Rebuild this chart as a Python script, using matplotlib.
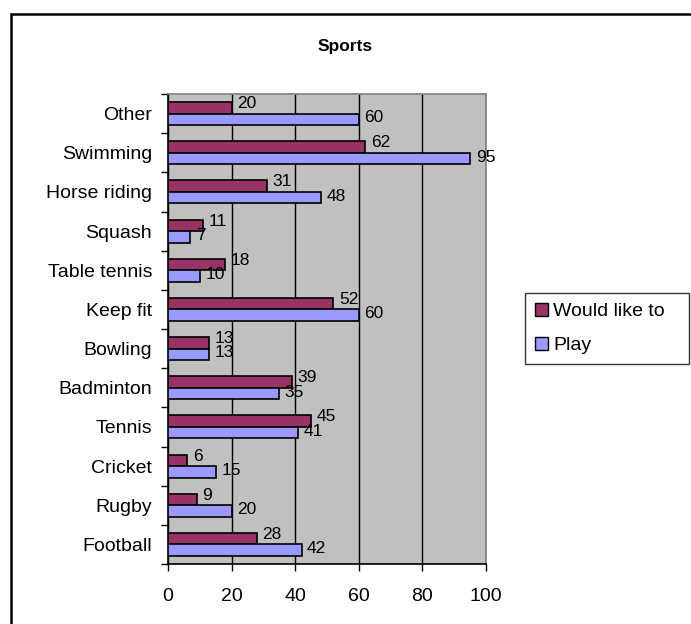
import matplotlib
matplotlib.use("Agg")
import matplotlib.pyplot as plt
from matplotlib.patches import Rectangle, Patch
import numpy as np

plt.rcParams['font.family'] = ['Liberation Sans', 'DejaVu Sans']

categories = ["Other", "Swimming", "Horse riding", "Squash", "Table tennis", "Keep fit",
              "Bowling", "Badminton", "Tennis", "Cricket", "Rugby", "Football"]
would_like = [20, 62, 31, 11, 18, 52, 13, 39, 45, 6, 9, 28]
play = [60, 95, 48, 7, 10, 60, 13, 35, 41, 15, 20, 42]
xticks = [0, 20, 40, 60, 80, 100]

C_WOULD = "#993366"
C_PLAY = "#9999FF"

fig = plt.figure(figsize=(6.91, 6.24), dpi=100)
ax = fig.add_axes([168/691, 1-564/624, (486-168)/691, (564-94)/624])
ax.set_facecolor("#C0C0C0")

n = len(categories)
cats_r = categories[::-1]
w_r = would_like[::-1]
p_r = play[::-1]
y = np.arange(n)
h = 0.295

ax.barh(y + h/2, w_r, height=h, color=C_WOULD, edgecolor="black", linewidth=1.2, zorder=3)
ax.barh(y - h/2, p_r, height=h, color=C_PLAY, edgecolor="black", linewidth=1.2, zorder=3)

for yi, v in zip(y, w_r):
    ax.annotate(str(v), (v, yi + h/2), xytext=(4, 3), textcoords="offset points",
                ha="left", va="center", fontsize=12.5, zorder=5)
for yi, v in zip(y, p_r):
    ax.annotate(str(v), (v, yi - h/2), xytext=(4, 1), textcoords="offset points",
                ha="left", va="center", fontsize=12.5, zorder=5)

ax.set_xlim(0, 100)
ax.set_ylim(-0.5, n - 0.5)
ax.set_xticks(xticks)
ax.set_xticklabels([str(t) for t in xticks], fontsize=14)
ax.set_yticks(y)
ax.set_yticklabels(cats_r, fontsize=14)
ax.tick_params(axis="y", length=0, pad=11.5)
ax.set_yticks(np.arange(-0.5, n, 1), minor=True)
ax.tick_params(axis="y", which="minor", length=5, width=1, direction="out")
ax.tick_params(axis="x", length=5, width=1, direction="out", pad=12)
ax.xaxis.grid(True, color="black", linewidth=1, zorder=1)
ax.set_axisbelow(True)
for s in ["top", "right"]:
    ax.spines[s].set_color("#808080")
    ax.spines[s].set_linewidth(1.2)
for s in ["left", "bottom"]:
    ax.spines[s].set_color("black")
    ax.spines[s].set_linewidth(1.2)

fig.text(345/691, 1-47/624, "Sports", ha="center", va="center", fontsize=12.5, fontweight="bold")

handles = [Patch(facecolor=C_WOULD, edgecolor="black", linewidth=1.0, label="Would like to"),
           Patch(facecolor=C_PLAY, edgecolor="black", linewidth=1.0, label="Play")]
leg = fig.legend(handles=handles, loc="upper left",
                 bbox_to_anchor=(525/691, 1-293/624, (689-525)/691, 0.0), mode="expand",
                 fontsize=14, frameon=True, fancybox=False, handlelength=0.7, handleheight=0.7,
                 handletextpad=0.25, borderpad=0.5, labelspacing=0.85, borderaxespad=0)
leg.get_frame().set_edgecolor("black")
leg.get_frame().set_linewidth(1.0)

fig.patches.append(Rectangle((11/691, -0.1), 1.2, 1.1 - 14/624, transform=fig.transFigure,
                             fill=False, edgecolor="black", linewidth=1.8))

fig.savefig("out.png", dpi=100)
